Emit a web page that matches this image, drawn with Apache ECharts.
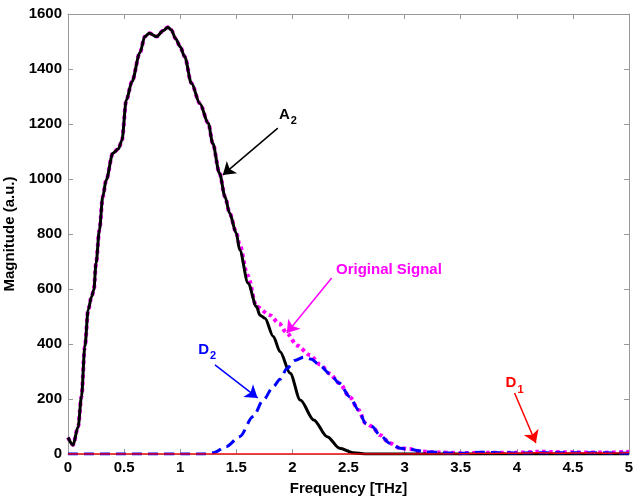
<!DOCTYPE html>
<html>
<head>
<meta charset="utf-8">
<script src="https://cdn.jsdelivr.net/npm/echarts@6/dist/echarts.min.js"></script>
<style>
  html, body { margin: 0; padding: 0; background: #fff; }
  #main { width: 633px; height: 498px; }
</style>
</head>
<body>
<div id="main"></div>
<script>
// axis ticks
var xTicks = [0, 0.5, 1, 1.5, 2, 2.5, 3, 3.5, 4, 4.5, 5]
var yTicks = [0, 200, 400, 600, 800, 1000, 1200, 1400, 1600]

// A2 (approximation, black solid)
var a2Freq = [0, 0.045, 0.09, 0.12, 0.15, 0.18, 0.21, 0.23, 0.25, 0.28, 0.31, 0.34, 0.4, 0.45, 0.48, 0.52, 0.57, 0.64, 0.685, 0.725, 0.79, 0.85, 0.89, 0.92, 0.96, 1.0, 1.04, 1.1, 1.175, 1.25, 1.29, 1.35, 1.4, 1.44, 1.5, 1.53, 1.605, 1.68, 1.71, 1.755, 1.83, 1.89, 1.98, 2.07, 2.19, 2.31, 2.42, 2.54, 2.65, 3, 4, 5]
var a2Mag = [60, 33, 99, 208, 390, 524, 572, 596, 693, 815, 936, 996, 1094, 1110, 1140, 1287, 1354, 1458, 1518, 1530, 1518, 1540, 1552, 1542, 1510, 1481, 1445, 1348, 1275, 1203, 1130, 1021, 935, 876, 803, 742, 621, 536, 505, 494, 427, 372, 294, 196, 124, 63, 21, 5, 0, 0, 0, 0]

// Original signal (magenta dotted)
var origFreq = [0, 0.045, 0.09, 0.12, 0.15, 0.18, 0.21, 0.23, 0.25, 0.28, 0.31, 0.34, 0.4, 0.45, 0.48, 0.52, 0.57, 0.64, 0.685, 0.725, 0.79, 0.85, 0.89, 0.92, 0.96, 1.0, 1.04, 1.1, 1.175, 1.25, 1.29, 1.35, 1.4, 1.44, 1.5, 1.53, 1.6, 1.68, 1.8, 1.88, 1.95, 2.04, 2.155, 2.25, 2.33, 2.42, 2.51, 2.59, 2.65, 2.71, 2.78, 2.87, 2.96, 3.05, 3.13, 3.3, 3.5, 3.7, 4.0, 4.2, 4.5, 4.8, 5]
var origMag = [60, 33, 99, 208, 390, 524, 572, 596, 693, 815, 936, 996, 1094, 1110, 1140, 1287, 1354, 1458, 1518, 1530, 1518, 1540, 1552, 1542, 1510, 1481, 1445, 1348, 1275, 1203, 1130, 1021, 935, 876, 805, 760, 650, 536, 505, 475, 440, 395, 360, 325, 293, 257, 208, 160, 112, 100, 69, 39, 21, 18, 10, 6, 3, 5, 5, 8, 6, 5, 8]

// D2 (detail level 2, blue dashed)
var d2Freq = [0, 1.2, 1.3, 1.41, 1.53, 1.65, 1.74, 1.83, 1.89, 1.95, 2.02, 2.1, 2.17, 2.25, 2.33, 2.42, 2.51, 2.59, 2.65, 2.71, 2.78, 2.87, 2.96, 3.05, 3.11, 3.2, 3.35, 3.5, 3.7, 4.0, 4.5, 5]
var d2Mag = [0, 0, 5, 27, 63, 136, 196, 245, 272, 310, 340, 352, 345, 320, 293, 257, 208, 160, 112, 100, 69, 39, 21, 18, 13, 8, 5, 3, 6, 4, 5, 3]

// D1 (detail level 1, red solid)
var d1Freq = [0, 3.0, 3.5, 3.8, 4.0, 4.2, 4.4, 4.6, 4.8, 5]
var d1Mag = [0, 0, 1, 2, 3, 5, 3, 4, 3, 5]

function zip(xs, ys) {
  return xs.map(function (x, i) { return [x, ys[i]] })
}

var font = 'Liberation Sans, Arial, Helvetica, sans-serif'
var frameColor = '#999'

// annotation arrow, in data coordinates
function arrow(from, to, color) {
  return {
    silent: true,
    symbol: ['none', 'arrow'],
    symbolSize: 12,
    label: { show: false },
    lineStyle: { color: color, width: 1.5, type: 'solid' },
    itemStyle: { color: color },
    emphasis: { disabled: true },
    animation: false,
    data: [[{ coord: from }, { coord: to }]]
  }
}

function label(coord, text, color) {
  return {
    silent: true,
    symbol: 'circle',
    symbolSize: 1,
    itemStyle: { color: 'rgba(0,0,0,0)' },
    animation: false,
    label: {
      show: true,
      position: 'inside',
      formatter: text,
      color: color,
      fontFamily: font,
      fontWeight: 'bold',
      fontSize: 15,
      rich: {
        b: { color: color, fontFamily: font, fontWeight: 'bold', fontSize: 15 },
        s: { color: color, fontFamily: font, fontWeight: 'bold', fontSize: 11, padding: [13, 0, 0, 1] }
      }
    },
    data: [{ coord: coord }]
  }
}

function xAxisDef(pos, showLabel) {
  return {
    type: 'value',
    position: pos,
    min: 0,
    max: 5,
    interval: 0.5,
    name: showLabel ? 'Frequency [THz]' : '',
    nameLocation: 'middle',
    nameGap: 27,
    nameTextStyle: { color: '#000', fontFamily: font, fontWeight: 'bold', fontSize: 15 },
    axisLine: { show: true, onZero: false, lineStyle: { color: frameColor, width: 1 } },
    axisTick: { show: true, inside: true, length: 5, lineStyle: { color: frameColor } },
    axisLabel: {
      show: showLabel,
      margin: 6,
      color: '#000',
      fontFamily: font,
      fontWeight: 'bold',
      fontSize: 15,
      formatter: function (v) { return xTicks.indexOf(v) >= 0 ? String(v) : '' }
    },
    splitLine: { show: false }
  }
}

function yAxisDef(pos, showLabel) {
  return {
    type: 'value',
    position: pos,
    min: 0,
    max: 1600,
    interval: 200,
    name: showLabel ? 'Magnitude (a.u.)' : '',
    nameLocation: 'middle',
    nameGap: 46,
    nameTextStyle: { color: '#000', fontFamily: font, fontWeight: 'bold', fontSize: 15 },
    axisLine: { show: true, onZero: false, lineStyle: { color: frameColor, width: 1 } },
    axisTick: { show: true, inside: true, length: 5, lineStyle: { color: frameColor } },
    axisLabel: {
      show: showLabel,
      margin: 6,
      color: '#000',
      fontFamily: font,
      fontWeight: 'bold',
      fontSize: 15,
      formatter: function (v) { return yTicks.indexOf(v) >= 0 ? String(v) : '' }
    },
    splitLine: { show: false }
  }
}

var chart = echarts.init(document.getElementById('main'), null, { renderer: 'canvas' })

var option = {
  animation: false,
  backgroundColor: '#fff',
  grid: { left: 68, right: 4, top: 14, bottom: 44, containLabel: false, outerBoundsMode: 'none' },
  xAxis: [xAxisDef('bottom', true), xAxisDef('top', false)],
  yAxis: [yAxisDef('left', true), yAxisDef('right', false)],
  series: [
    {
      name: 'Original Signal',
      type: 'line',
      data: zip(origFreq, origMag),
      showSymbol: false,
      smooth: 0.3,
      smoothMonotone: 'x',
      lineStyle: { color: '#ff00ff', width: 4, type: [3.5, 3.5] },
      markLine: arrow([2.35, 640], [1.95, 440], '#ff00ff'),
      markPoint: label([2.86, 669], 'Original Signal', '#ff00ff'),
      z: 2
    },
    {
      name: 'A2',
      type: 'line',
      data: zip(a2Freq, a2Mag),
      showSymbol: false,
      smooth: 0.3,
      smoothMonotone: 'x',
      lineStyle: { color: '#000', width: 3 },
      markLine: arrow([1.87, 1185], [1.38, 1015], '#000'),
      markPoint: label([1.96, 1235], '{b|A}{s|2}', '#000'),
      z: 3
    },
    {
      name: 'D2',
      type: 'line',
      data: zip(d2Freq, d2Mag),
      showSymbol: false,
      smooth: 0.3,
      smoothMonotone: 'x',
      lineStyle: { color: '#0000ff', width: 3, type: [10, 6] },
      markLine: arrow([1.31, 324], [1.69, 204], '#0000ff'),
      markPoint: label([1.24, 380], '{b|D}{s|2}', '#0000ff'),
      z: 4
    },
    {
      name: 'D1',
      type: 'line',
      data: zip(d1Freq, d1Mag),
      showSymbol: false,
      smooth: 0.3,
      lineStyle: { color: '#ff0000', width: 1.5 },
      markLine: arrow([3.98, 222], [4.17, 40], '#ff0000'),
      markPoint: label([3.98, 257], '{b|D}{s|1}', '#ff0000'),
      z: 5
    }
  ]
}

chart.setOption(option)
</script>
</body>
</html>
